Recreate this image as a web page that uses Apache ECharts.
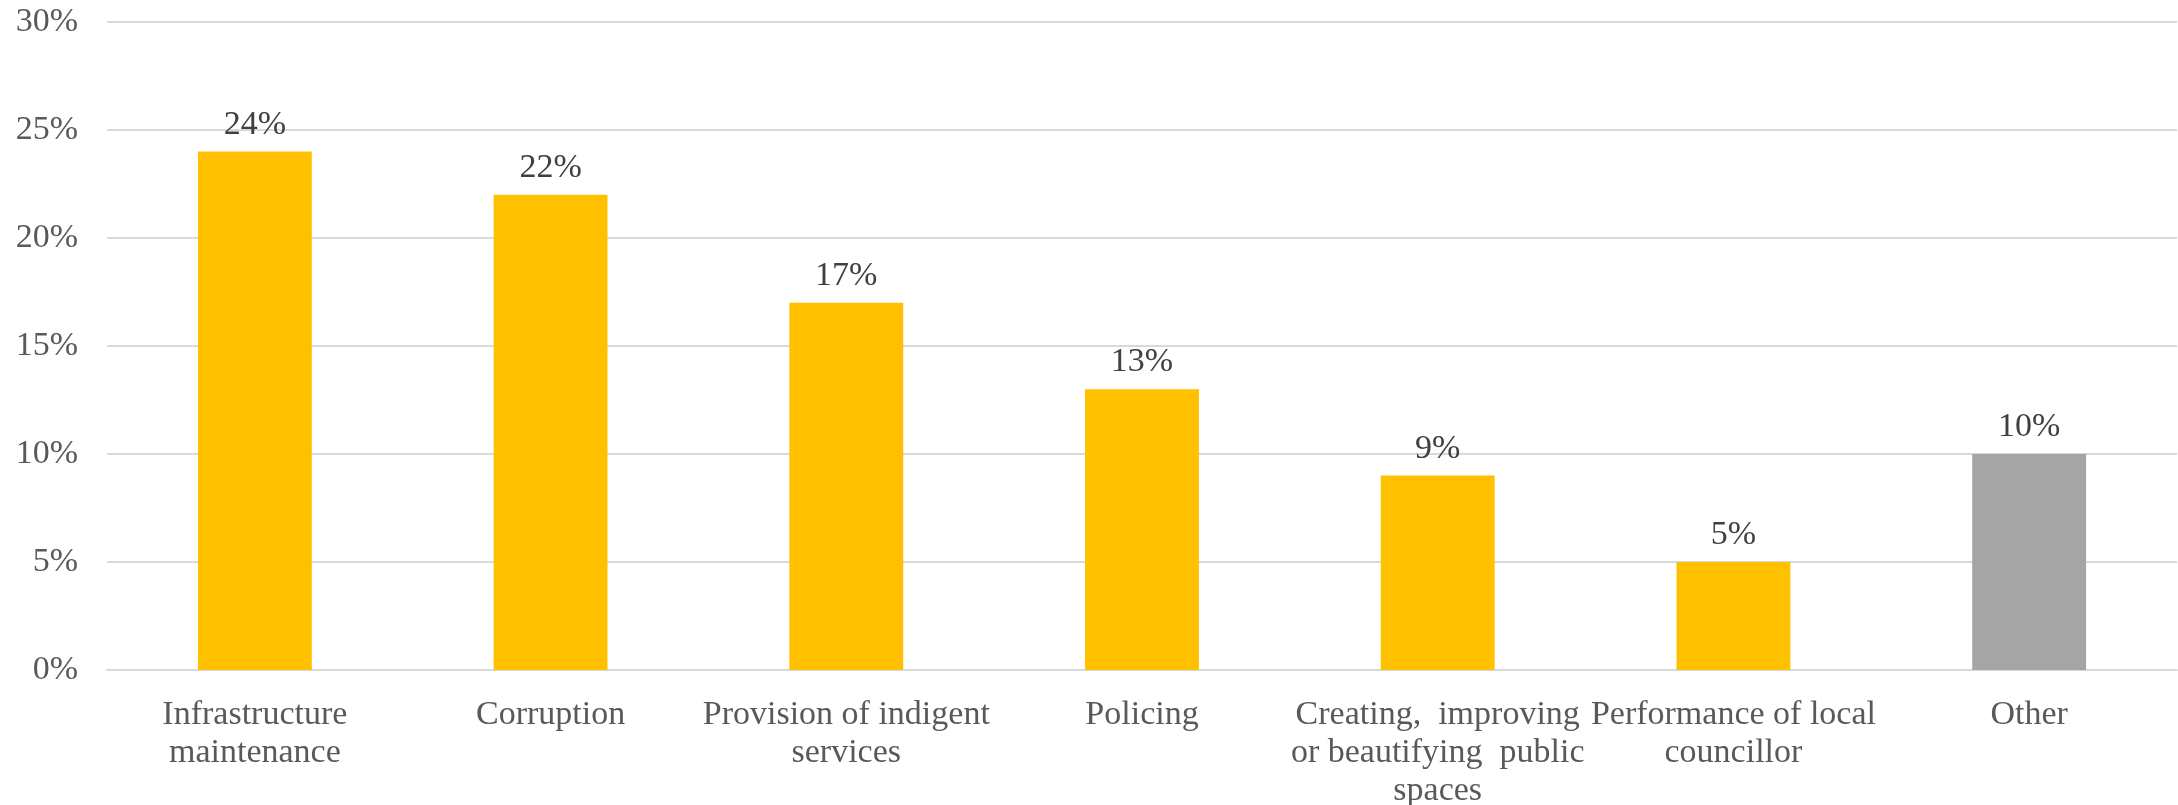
<!DOCTYPE html>
<html><head><meta charset="utf-8">
<script src="https://cdn.jsdelivr.net/npm/echarts@6/dist/echarts.min.js"></script>
<style>html,body{margin:0;padding:0;background:#fff}#c{width:2178px;height:805px}</style>
</head><body><div id="c"></div>
<script>
const categories = ["Infrastructure\nmaintenance","Corruption","Provision of indigent\nservices","Policing","Creating,  improving\nor beautifying  public\nspaces","Performance of local\ncouncillor","Other"];
const values = [24, 22, 17, 13, 9, 5, 10];
const barColors = ["#FFC000","#FFC000","#FFC000","#FFC000","#FFC000","#FFC000","#A5A5A5"];
const yTicks = {min: 0, max: 30, interval: 5};
const FONT = "Liberation Serif";
const chart = echarts.init(document.getElementById('c'));
chart.setOption({
  animation:false,
  grid:{left:107, right:1, top:22, bottom:135, containLabel:false, outerBoundsMode:'none'},
  xAxis:{type:'category', data:categories,
    axisLine:{show:true, lineStyle:{color:'#D9D9D9', width:2}},
    axisTick:{show:false},
    axisLabel:{interval:0, color:'#595959', fontFamily:FONT, fontSize:34, lineHeight:38, margin:26}},
  yAxis:{type:'value', min:yTicks.min, max:yTicks.max, interval:yTicks.interval,
    axisLine:{show:false}, axisTick:{show:false},
    splitLine:{lineStyle:{color:'#D9D9D9', width:2}},
    axisLabel:{formatter:'{value}%', color:'#595959', fontFamily:FONT, fontSize:34, margin:29}},
  series:[{type:'bar', barWidth:'38.5%',
    data: values.map((v,i)=>({value:v, itemStyle:{color:barColors[i]}})),
    label:{show:true, position:'top', distance:10, formatter:'{c}%', color:'#404040', fontFamily:FONT, fontSize:34}}]
});
</script></body></html>
